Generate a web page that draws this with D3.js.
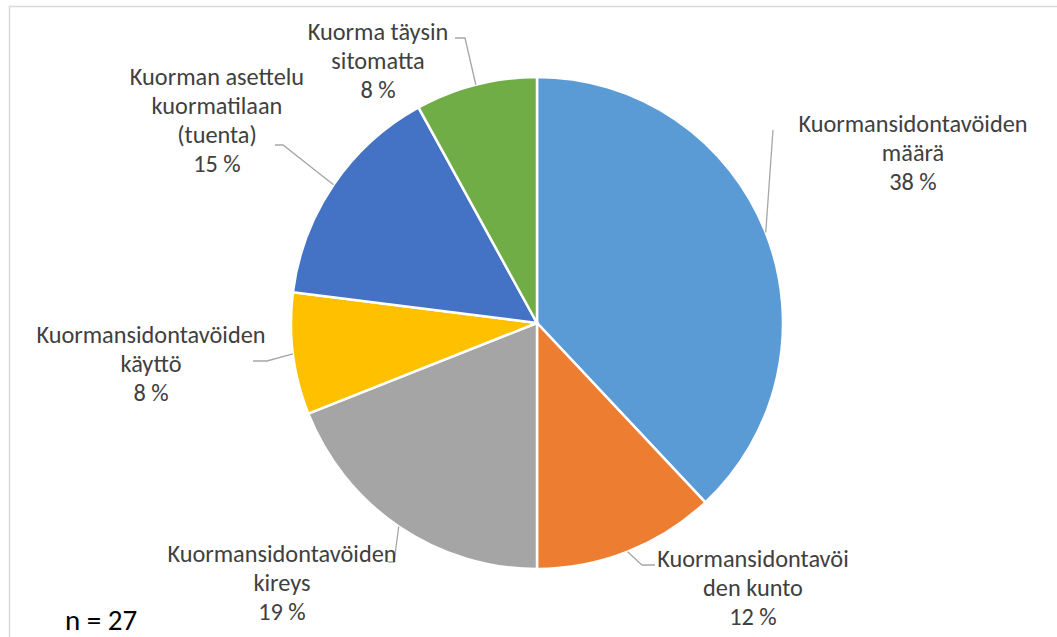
<!DOCTYPE html>
<html><head><meta charset="utf-8">
<script src="https://cdn.jsdelivr.net/npm/d3@7"></script>
<style>html,body{margin:0;padding:0;background:#fff;overflow:hidden}</style>
</head><body>
<svg id="c" width="1057" height="637"></svg>
<script>
const categories = ["Kuormansidontavöiden määrä","Kuormansidontavöiden kunto","Kuormansidontavöiden kireys","Kuormansidontavöiden käyttö","Kuorman asettelu kuormatilaan (tuenta)","Kuorma täysin sitomatta"];
const values = [38, 12, 19, 8, 15, 8];
const labelLines = [["Kuormansidontavöiden","määrä"],["Kuormansidontavöi","den kunto"],["Kuormansidontavöiden","kireys"],["Kuormansidontavöiden","käyttö"],["Kuorman asettelu","kuormatilaan","(tuenta)"],["Kuorma täysin","sitomatta"]];
const colors = ["#5B9BD5","#ED7D31","#A5A5A5","#FFC000","#4472C4","#70AD47"];
const nLabel = "n = 27";

// layout (label anchor: center x, first baseline y; leader bend points)
const layout = [
  {x:913, y:132, lead:[[773,130]]},
  {x:753, y:567, lead:[[642,565],[655,565]]},
  {x:282, y:562, lead:[[394,562],[388,562]]},
  {x:151, y:343, lead:[[267,361],[253,361]]},
  {x:217, y:85,  lead:[[283,145],[275,145]]},
  {x:378, y:40,  lead:[[465,38],[455,38]]}
];
const lineH = 29;
const cx = 537, cy = 323, R = 246;

const svg = d3.select("#c");
svg.append("rect").attr("x",9.5).attr("y",6.5).attr("width",1100).attr("height",700)
  .attr("fill","#fff").attr("stroke","#d9d9d9").attr("stroke-width",1.5);

const data = categories.map((c,i)=>({cat:c, v:values[i], i}));
const pie = d3.pie().value(d=>d.v).sort(null);
const arcs = pie(data);
const arc = d3.arc().innerRadius(0).outerRadius(R);
const g = svg.append("g").attr("transform",`translate(${cx},${cy})`);
g.selectAll("path.slice").data(arcs).join("path").attr("class","slice")
  .attr("d",arc).attr("fill",d=>colors[d.data.i]).attr("stroke","#fff").attr("stroke-width",2.5);

const font = "Carlito, Calibri, Lato, sans-serif";
arcs.forEach(a=>{
  const i = a.data.i, L = layout[i];
  const mid = (a.startAngle+a.endAngle)/2;
  const ex = cx + R*Math.sin(mid), ey = cy - R*Math.cos(mid);
  const pts = [[ex,ey], ...L.lead];
  svg.append("path").attr("d", d3.line()(pts)).attr("fill","none").attr("stroke","#a6a6a6").attr("stroke-width",1.3);
  const lines = labelLines[i].concat([a.data.v + " %"]);
  const t = svg.append("text").attr("font-family",font).attr("font-size",24.3).attr("fill","#404040").attr("text-anchor","middle");
  lines.forEach((s,k)=>t.append("tspan").attr("x",L.x).attr("y",L.y+k*lineH).text(s));
});
svg.append("text").attr("x",65).attr("y",630).attr("font-family",font).attr("font-size",29).attr("fill","#000").text(nLabel);
</script>
</body></html>
